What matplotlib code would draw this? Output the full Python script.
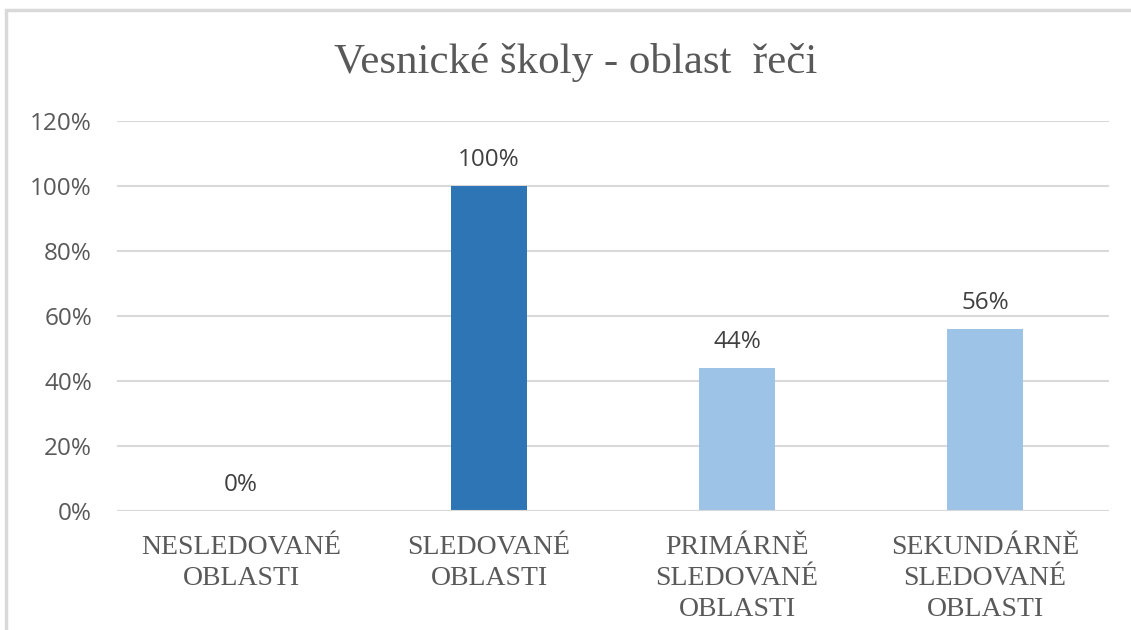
import matplotlib
matplotlib.use("Agg")
import matplotlib.pyplot as plt
from matplotlib.patches import Rectangle
from matplotlib.ticker import FuncFormatter

title = "Vesnické školy - oblast  řeči"
categories = ["NESLEDOVANÉ\nOBLASTI", "SLEDOVANÉ\nOBLASTI",
              "PRIMÁRNĚ\nSLEDOVANÉ\nOBLASTI", "SEKUNDÁRNĚ\nSLEDOVANÉ\nOBLASTI"]
values = [0.0, 1.00, 0.44, 0.56]
value_labels = ["0%", "100%", "44%", "56%"]
bar_colors = ["#9DC3E6", "#2E75B6", "#9DC3E6", "#9DC3E6"]
y_ticks = [0.0, 0.2, 0.4, 0.6, 0.8, 1.0, 1.2]

W, H = 1131, 630
fig = plt.figure(figsize=(W / 100, H / 100), dpi=100)
fig.patch.set_facecolor("white")

# chart frame
fig.patches.append(Rectangle((6 / W, -0.05), 1.1, 1 - 10 / H + 0.05,
                             transform=fig.transFigure, fill=False,
                             edgecolor="#D9D9D9", linewidth=2.5))

ax = fig.add_axes([117 / W, 1 - 511 / H, (1109 - 117) / W, (511 - 121) / H])
x = range(len(categories))
ax.bar(x, values, width=0.31, color=bar_colors, zorder=3)
ax.set_xlim(-0.5, len(categories) - 0.5)
ax.set_ylim(0, 1.2)
ax.set_yticks(y_ticks)
ax.yaxis.set_major_formatter(FuncFormatter(lambda v, p: f"{v * 100:.0f}%"))
ax.grid(axis="y", color="#D9D9D9", linewidth=1.5, zorder=0)
for s in ax.spines.values():
    s.set_visible(False)
ax.axhline(0, color="#D9D9D9", linewidth=1.5, zorder=4)
ax.tick_params(axis="y", length=0, pad=18, labelsize=17.5, labelcolor="#595959")
ax.tick_params(axis="x", length=0, pad=17)
for lbl in ax.get_yticklabels():
    lbl.set_fontfamily("Open Sans")
ax.set_xticks(list(x))
ax.set_xticklabels(categories, fontfamily="Liberation Serif", fontsize=20,
                   color="#595959", linespacing=1.32)

for xi, v, t in zip(x, values, value_labels):
    ax.annotate(t, (xi, v), xytext=(0, 10), textcoords="offset points",
                ha="center", va="bottom", fontsize=17.5, color="#404040",
                fontfamily="Open Sans")

fig.text(576 / W, 1 - 62 / H, title, ha="center", va="center",
         fontfamily="Liberation Serif", fontsize=31, color="#595959")

fig.savefig("out.png", dpi=100, facecolor="white")
